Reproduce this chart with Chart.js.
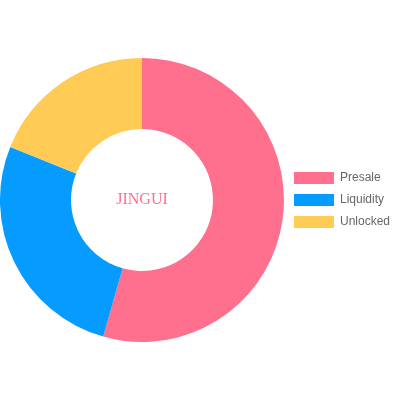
<!DOCTYPE html>
<html>
<head>
<meta charset="utf-8">
<script src="https://cdn.jsdelivr.net/npm/chart.js@4/dist/chart.umd.min.js"></script>
<style>
  html, body { margin: 0; padding: 0; background: #fff; }
  #wrap { width: 400px; height: 400px; }
</style>
</head>
<body>
<div id="wrap"><canvas id="tokenChart"></canvas></div>
<script>
// data
const labels = ['Presale', 'Liquidity', 'Unlocked'];
const shares = [54.4, 26.7, 18.9];
const sliceColors = ['#ff6f8e', '#059bff', '#ffcb55'];
const centerLabel = 'JINGUI';

// draws the name in the hole
const centerText = {
    id: 'centerText',
    afterDatasetsDraw(chart) {
        const meta = chart.getDatasetMeta(0);
        if (!meta.data.length) return;
        const { x, y } = meta.data[0];
        const ctx = chart.ctx;
        ctx.save();
        ctx.font = '16px "Liberation Serif", "Times New Roman", serif';
        ctx.fillStyle = '#ff6f8e';
        ctx.textAlign = 'center';
        ctx.textBaseline = 'middle';
        ctx.fillText(centerLabel, x, y);
        ctx.restore();
    }
};

new Chart(document.getElementById('tokenChart').getContext('2d'), {
    type: 'doughnut',
    data: {
        labels: labels,
        datasets: [{
            data: shares,
            backgroundColor: sliceColors,
            borderWidth: 0,
        }],
    },
    options: {
        responsive: true,
        maintainAspectRatio: false,
        animation: false,
        cutout: '50%',
        plugins: {
            legend: {
                position: 'right',
                labels: {
                    color: '#666',
                    font: { family: '"Liberation Sans", Arial, sans-serif', size: 12 },
                },
            },
            tooltip: { enabled: false },
        },
    },
    plugins: [centerText],
});
</script>
</body>
</html>
